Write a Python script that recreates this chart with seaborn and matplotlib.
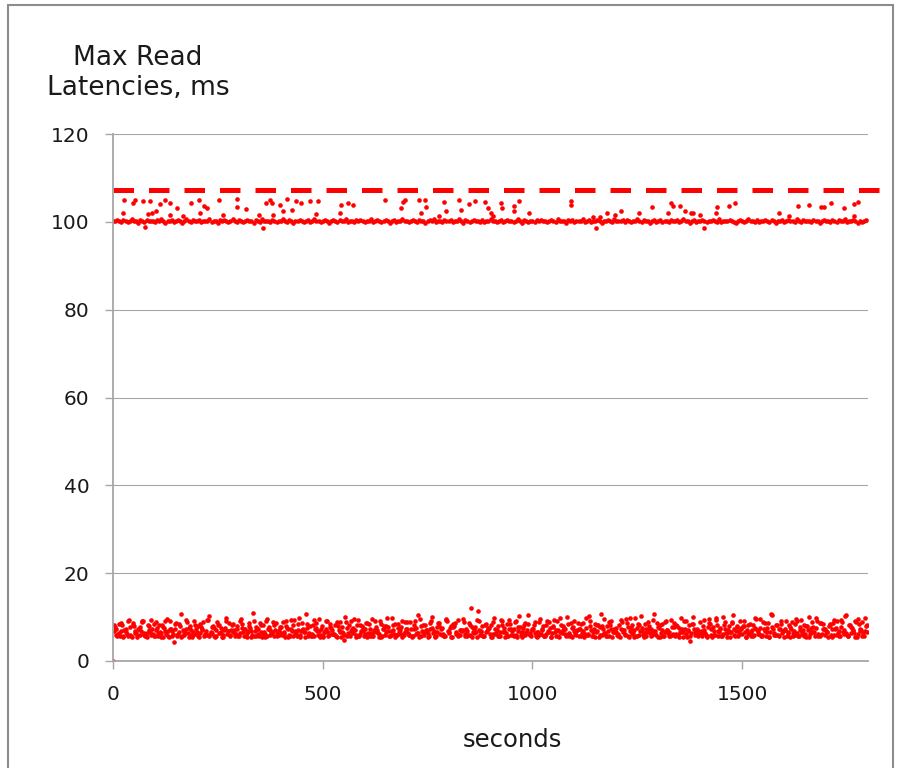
import numpy as np
import matplotlib
matplotlib.use("Agg")
import matplotlib.pyplot as plt
import seaborn as sns
from matplotlib.patches import Rectangle

# samples every 5 s (three interleaved samples for the low band)
step = 5

low_a = [
    0.0, 7.8, 5.6, 8.4, 6.9, 5.8, 7.2, 9.1, 6.0, 5.5, 8.0, 6.6, 7.4, 5.9, 8.8, 6.3, 5.4, 7.0, 9.3, 6.1,
    5.7, 7.6, 8.2, 6.4, 5.5, 9.0, 6.8, 7.3, 5.6, 4.4, 8.6, 6.2, 7.9, 5.8, 6.5, 9.4, 5.5, 7.1, 6.0, 8.3,
    6.7, 5.4, 7.7, 8.9, 6.1, 5.9, 10.2, 6.4, 7.5, 5.6, 8.1, 6.3, 5.5, 7.0, 9.2, 6.8, 5.7, 8.5, 6.2, 7.4,
    5.8, 9.6, 6.5, 7.2, 5.4, 8.0, 6.9, 5.6, 7.8, 6.1, 8.7, 5.5, 6.6, 9.1, 7.3, 5.9, 6.4, 8.2, 5.6, 7.0,
    6.3, 8.8, 5.5, 7.6, 6.0, 9.3, 5.7, 6.8, 8.4, 5.4, 7.1, 6.5, 10.6, 5.8, 7.9, 6.2, 5.6, 8.6, 6.9, 7.4,
    5.5, 6.7, 9.0, 5.9, 7.5, 6.1, 8.3, 5.4, 6.6, 7.8, 4.8, 8.9, 6.3, 5.7, 7.2, 9.5, 6.0, 5.6, 8.1, 6.8,
    7.3, 5.5, 8.5, 6.4, 5.8, 9.2, 7.0, 6.2, 5.4, 8.0, 6.7, 7.7, 5.6, 9.7, 6.1, 5.9, 8.4, 7.1, 5.5, 6.5,
    8.8, 6.0, 7.4, 5.7, 9.0, 6.3, 5.5, 7.9, 8.2, 6.6, 5.4, 7.2, 10.1, 6.9, 5.8, 8.6, 6.2, 7.5, 5.6, 9.3,
    6.4, 5.5, 7.8, 8.7, 6.1, 5.9, 7.0, 9.6, 5.6, 6.8, 8.3, 5.4, 7.3, 6.5, 11.3, 6.0, 8.0, 5.7, 6.7, 7.6,
    5.5, 8.9, 6.2, 7.1, 5.8, 9.4, 6.6, 5.4, 8.5, 7.4, 6.0, 5.6, 9.1, 6.9, 7.7, 5.5, 8.2, 6.3, 10.4, 5.9,
    7.2, 6.4, 5.5, 8.8, 6.1, 7.9, 5.7, 9.2, 6.7, 5.4, 8.0, 7.0, 5.8, 9.8, 6.3, 7.5, 5.6, 8.4, 6.0, 5.5,
    9.0, 6.8, 7.3, 5.6, 8.6, 6.2, 5.9, 10.3, 7.1, 6.5, 5.4, 8.1, 7.7, 6.0, 9.5, 5.7, 6.9, 8.3, 5.5, 7.4,
    6.6, 5.8, 9.3, 7.0, 6.1, 8.7, 5.5, 7.6, 6.4, 9.9, 5.6, 8.2, 6.8, 5.4, 7.2, 8.9, 6.3, 5.9, 10.7, 6.0,
    7.8, 5.5, 8.5, 6.7, 7.1, 5.7, 9.4, 6.2, 5.6, 8.0, 7.5, 6.5, 5.4, 9.1, 6.9, 4.6, 8.4, 7.3, 6.1, 5.8,
    8.8, 6.4, 7.0, 5.5, 9.6, 6.0, 7.7, 5.9, 8.2, 6.6, 5.6, 10.0, 7.2, 6.3, 5.4, 8.6, 7.4, 6.8, 5.7, 9.2,
    6.1, 7.9, 5.5, 8.3, 6.5, 5.8, 9.7, 7.1, 6.2, 5.6, 8.9, 6.9, 7.6, 5.4, 10.5, 6.0, 8.1, 5.9, 7.3, 6.4,
    5.5, 9.0, 6.7, 7.8, 5.7, 8.5, 6.3, 5.6, 9.3, 7.0, 6.1, 8.0, 5.4, 7.5, 6.6, 9.8, 5.8, 8.7, 6.2, 7.2,
    6.8, 5.5, 8.4, 7.4, 6.0, 9.1, 5.6, 7.7, 6.5, 10.2, 5.9, 8.2, 6.3, 7.1, 5.4, 9.5, 6.9, 8.8, 5.7, 7.9,
]

low_b = [
    8.2, 5.9, 6.4, 8.7, 5.5, 7.0, 6.2, 9.4, 5.7, 8.1, 6.8, 5.4, 7.7, 9.0, 6.0, 5.6, 8.3, 6.6, 7.3, 5.8,
    8.9, 6.3, 5.5, 7.8, 6.9, 9.6, 5.4, 7.2, 6.1, 8.5, 5.7, 6.7, 10.8, 5.9, 7.4, 6.4, 8.0, 5.5, 9.1, 6.2,
    5.6, 8.4, 7.1, 6.0, 9.3, 5.8, 6.5, 7.9, 5.4, 8.8, 6.3, 7.5, 5.5, 9.7, 6.8, 5.9, 8.2, 7.0, 6.1, 5.6,
    9.0, 7.6, 5.7, 6.4, 8.6, 5.5, 10.9, 6.9, 7.3, 5.8, 8.1, 6.2, 5.4, 9.5, 7.0, 6.6, 5.6, 8.7, 6.0, 7.8,
    5.9, 6.5, 9.2, 5.5, 7.4, 8.3, 6.1, 5.7, 9.9, 6.8, 7.2, 5.4, 8.5, 6.3, 5.8, 9.4, 7.6, 6.0, 5.5, 8.0,
    6.7, 9.1, 5.6, 7.7, 6.2, 5.9, 8.8, 7.1, 5.4, 6.4, 10.0, 5.7, 8.2, 6.9, 7.5, 5.5, 9.3, 6.1, 7.9, 5.8,
    8.6, 6.3, 5.6, 9.5, 7.0, 6.5, 5.4, 8.4, 7.3, 6.0, 9.8, 5.7, 6.8, 8.1, 5.5, 7.6, 6.2, 9.0, 5.9, 7.2,
    6.4, 8.9, 5.5, 7.4, 6.1, 10.4, 5.8, 6.7, 8.3, 7.0, 5.6, 9.2, 6.3, 5.4, 7.8, 8.6, 6.0, 5.7, 9.6, 6.9,
    7.5, 5.5, 8.0, 6.6, 9.4, 5.9, 7.1, 6.2, 5.6, 8.7, 12.0, 6.5, 7.7, 5.4, 9.0, 6.8, 5.8, 8.4, 7.3, 6.1,
    5.5, 9.7, 6.4, 7.9, 5.7, 8.2, 6.9, 5.6, 9.3, 7.2, 6.0, 8.8, 5.4, 10.3, 6.6, 7.5, 5.9, 8.5, 6.3, 7.0,
    8.1, 5.6, 6.7, 9.5, 7.4, 5.8, 6.2, 8.9, 5.5, 7.7, 6.5, 9.1, 5.4, 8.3, 7.0, 6.1, 10.1, 5.7, 7.6, 6.8,
    5.9, 8.6, 7.2, 6.4, 5.5, 9.8, 6.0, 7.9, 5.6, 8.4, 6.9, 5.4, 10.6, 7.3, 6.3, 8.0, 5.8, 9.2, 6.6, 7.5,
    6.2, 5.5, 8.8, 7.1, 9.6, 5.7, 6.8, 8.2, 5.4, 7.6, 6.0, 10.2, 5.9, 8.5, 6.5, 7.3, 5.6, 9.4, 6.9, 5.5,
    8.3, 7.0, 5.8, 9.1, 6.4, 5.6, 7.8, 8.7, 6.1, 5.4, 9.9, 6.7, 7.4, 5.5, 8.1, 6.3, 10.0, 5.9, 7.1, 6.6,
    5.7, 9.3, 6.0, 7.7, 8.5, 5.5, 6.8, 9.7, 5.6, 7.2, 6.2, 8.9, 5.4, 7.9, 6.5, 10.4, 5.8, 8.0, 6.9, 7.5,
    9.0, 5.5, 6.4, 8.4, 7.0, 5.9, 9.5, 6.1, 7.6, 5.6, 8.7, 6.6, 5.4, 10.7, 7.3, 6.0, 8.2, 5.7, 9.2, 6.8,
    7.4, 6.3, 5.5, 8.8, 6.9, 9.6, 5.8, 7.1, 6.2, 8.3, 5.4, 10.1, 6.5, 7.8, 5.6, 9.0, 6.0, 8.6, 7.2, 5.9,
    6.7, 8.1, 5.5, 9.4, 7.5, 6.4, 5.7, 8.9, 6.1, 10.5, 5.6, 7.7, 6.8, 9.1, 5.4, 8.4, 7.0, 6.3, 9.8, 6.6,
]

low_c = [
    6.9, 7.4, 6.1, 5.8, 8.2, 7.0, 6.5, 5.6, 7.7, 8.6, 6.3, 5.9, 7.2, 6.8, 9.0, 5.7, 6.4, 7.9, 6.0, 8.4,
    7.1, 5.6, 6.6, 8.1, 7.5, 6.2, 5.8, 9.2, 6.9, 7.3, 6.0, 8.5, 5.5, 7.0, 6.4, 8.8, 7.6, 5.9, 6.7, 7.2,
    8.0, 6.3, 7.4, 5.7, 6.8, 9.4, 6.1, 7.8, 5.6, 7.1, 8.3, 6.5, 5.9, 7.5, 6.2, 8.7, 7.0, 6.6, 5.8, 7.9,
    6.4, 8.5, 7.2, 5.6, 6.9, 7.6, 6.0, 9.1, 5.7, 7.3, 6.7, 8.2, 6.1, 5.8, 7.8, 6.5, 8.9, 7.1, 6.3, 5.9,
    7.7, 6.2, 8.0, 7.4, 5.6, 6.8, 9.3, 6.4, 7.0, 5.9, 8.6, 6.6, 7.5, 6.1, 5.7, 8.1, 7.2, 6.9, 9.6, 6.0,
    5.8, 7.3, 6.5, 8.4, 7.0, 6.2, 5.6, 7.9, 8.8, 6.7, 6.0, 7.6, 5.9, 9.0, 6.4, 7.1, 8.3, 5.7, 6.8, 7.5,
    6.1, 8.7, 7.2, 5.8, 6.6, 7.8, 6.3, 9.2, 5.6, 7.4, 8.0, 6.9, 6.0, 7.0, 8.5, 5.9, 6.5, 7.7, 6.2, 8.9,
    7.3, 6.0, 5.7, 8.2, 7.6, 6.4, 9.5, 6.8, 5.9, 7.1, 6.3, 8.6, 7.5, 5.6, 6.7, 8.0, 7.2, 6.1, 5.8, 9.1,
    6.6, 7.9, 8.4, 6.2, 5.7, 7.0, 6.9, 8.8, 7.4, 6.0, 5.9, 7.7, 6.4, 9.3, 7.1, 6.5, 5.6, 8.1, 6.8, 7.6,
    8.3, 6.1, 7.2, 5.8, 6.7, 9.0, 7.5, 6.3, 5.7, 8.5, 6.9, 7.3, 6.0, 7.8, 5.9, 6.6, 8.7, 7.0, 6.2, 5.6,
    7.4, 8.9, 6.5, 6.0, 7.1, 5.8, 8.2, 6.8, 7.6, 6.3, 9.4, 5.7, 7.0, 6.6, 8.0, 7.3, 5.9, 6.4, 8.6, 7.7,
    6.2, 7.0, 5.6, 8.4, 6.9, 7.5, 6.1, 9.2, 5.8, 7.2, 6.7, 8.1, 6.0, 7.9, 6.4, 5.7, 8.8, 7.4, 6.5, 7.1,
    5.9, 8.3, 7.3, 6.6, 6.0, 7.7, 9.7, 6.2, 7.0, 5.8, 8.5, 6.8, 7.5, 6.3, 5.6, 8.0, 7.2, 6.9, 6.1, 8.7,
    7.6, 6.4, 5.7, 8.9, 7.1, 6.7, 6.0, 7.8, 8.2, 5.9, 6.5, 7.4, 9.0, 6.1, 7.0, 5.8, 8.4, 6.6, 7.3, 6.2,
    6.8, 7.9, 6.3, 5.6, 8.6, 7.2, 6.0, 9.3, 6.9, 7.5, 5.7, 8.1, 6.4, 7.0, 6.7, 8.8, 5.9, 7.7, 6.2, 7.4,
    8.0, 6.5, 7.1, 6.1, 5.8, 8.3, 7.6, 6.8, 9.5, 6.0, 7.3, 5.7, 8.7, 6.6, 7.8, 6.3, 5.9, 7.2, 8.5, 6.9,
    7.0, 5.6, 8.2, 7.4, 6.4, 6.0, 9.1, 7.7, 6.7, 5.8, 8.0, 7.1, 6.2, 8.9, 6.5, 7.5, 6.1, 5.7, 8.4, 7.3,
    6.6, 7.9, 6.0, 8.6, 7.2, 5.9, 6.8, 9.4, 7.0, 6.3, 5.7, 8.1, 7.6, 6.4, 8.8, 6.1, 7.4, 5.8, 6.9, 8.3,
]

high_base = [
    100.3, 100.1, 100.4, 100.2, 99.9, 100.5, 100.2, 100.0, 100.3, 100.6, 100.1, 100.2, 99.8, 100.4, 100.2, 100.0, 100.5, 100.3, 100.1, 100.2,
    100.0, 100.4, 100.2, 100.6, 100.1, 99.8, 100.3, 100.2, 100.5, 100.0, 100.2, 100.4, 100.1, 99.7, 100.3, 100.6, 100.2, 100.0, 100.4, 100.1,
    100.2, 100.5, 99.9, 100.3, 100.1, 100.2, 100.7, 100.0, 100.3, 100.2, 99.8, 100.4, 100.1, 100.5, 100.2, 100.0, 100.3, 100.6, 100.1, 99.9,
    100.4, 100.2, 100.0, 100.3, 100.5, 100.1, 100.2, 99.8, 100.4, 100.2, 100.0, 100.6, 100.3, 100.1, 100.2, 99.9, 100.5, 100.2, 100.0, 100.3,
    100.1, 100.6, 100.2, 100.0, 100.4, 100.2, 99.7, 100.3, 100.1, 100.5, 100.2, 100.0, 100.3, 100.4, 99.9, 100.2, 100.6, 100.1, 100.3, 100.0,
    100.2, 100.4, 100.1, 99.8, 100.3, 100.5, 100.2, 100.0, 100.4, 100.1, 100.2, 100.7, 100.0, 100.3, 100.2, 99.9, 100.4, 100.1, 100.5, 100.2,
    100.0, 100.3, 100.2, 100.6, 99.9, 100.1, 100.4, 100.2, 100.0, 100.3, 100.5, 100.1, 99.8, 100.2, 100.4, 100.0, 100.3, 100.2, 100.6, 100.1,
    100.3, 99.9, 100.2, 100.4, 100.1, 100.0, 100.5, 100.2, 100.3, 99.7, 100.2, 100.4, 100.1, 100.6, 100.0, 100.3, 100.2, 99.9, 100.4, 100.2,
    100.1, 100.5, 100.0, 100.2, 100.3, 100.6, 100.1, 99.8, 100.4, 100.2, 100.0, 100.3, 100.5, 100.1, 100.2, 100.0, 100.4, 99.9, 100.3, 100.2,
    100.6, 100.1, 100.3, 100.0, 100.2, 100.4, 99.9, 100.2, 100.5, 100.1, 100.3, 100.0, 100.2, 100.6, 100.1, 99.8, 100.4, 100.2, 100.0, 100.3,
    100.2, 100.0, 100.4, 100.1, 100.5, 100.2, 100.3, 99.9, 100.1, 100.4, 100.2, 100.0, 100.6, 100.3, 100.1, 100.2, 99.7, 100.4, 100.2, 100.5,
    100.0, 100.3, 100.1, 100.2, 100.6, 99.9, 100.2, 100.4, 100.0, 100.3, 100.1, 100.5, 100.2, 99.8, 100.3, 100.1, 100.4, 100.2, 100.0, 100.6,
    100.3, 100.1, 100.2, 100.5, 100.0, 100.4, 100.2, 99.9, 100.3, 100.1, 100.6, 100.2, 100.0, 100.4, 100.1, 100.3, 99.8, 100.2, 100.5, 100.0,
    100.2, 100.4, 100.0, 100.3, 100.1, 99.9, 100.5, 100.2, 100.1, 100.4, 100.0, 100.2, 100.6, 100.1, 100.3, 99.8, 100.2, 100.4, 100.0, 100.3,
    100.1, 100.5, 100.2, 100.0, 100.3, 100.1, 100.4, 100.2, 99.9, 100.6, 100.0, 100.3, 100.2, 100.1, 100.5, 100.2, 100.0, 99.7, 100.3, 100.4,
    100.2, 100.0, 100.3, 100.6, 100.1, 100.2, 99.9, 100.4, 100.0, 100.3, 100.2, 100.5, 100.1, 100.0, 100.4, 100.2, 99.8, 100.3, 100.1, 100.5,
    100.0, 100.2, 100.4, 100.1, 100.3, 100.0, 100.6, 100.2, 99.9, 100.4, 100.1, 100.3, 100.2, 100.0, 100.5, 100.1, 100.3, 99.8, 100.2, 100.4,
    100.1, 100.3, 100.0, 100.5, 100.2, 99.9, 100.4, 100.1, 100.2, 100.6, 100.0, 100.3, 100.1, 100.4, 100.2, 99.8, 100.3, 100.0, 100.2, 100.4,
]

# spikes above / below the ~100 ms band
spike_t = [26, 25, 48, 52, 71, 76, 88, 84, 92, 102, 112, 125, 137, 137, 152, 166, 187, 205, 207, 217,
           223, 253, 263, 296, 296, 317, 348, 358, 364, 374, 378, 382, 398, 405, 416, 427, 437, 448, 469, 485,
           489, 542, 544, 560, 572, 648, 687, 691, 695, 729, 735, 745, 747, 777, 790, 794, 826, 830, 848, 864,
           886, 894, 902, 905, 924, 928, 957, 957, 967, 991, 1092, 1092, 1144, 1152, 1160, 1177, 1197, 1211, 1255, 1286,
           1322, 1330, 1334, 1352, 1364, 1378, 1383, 1399, 1410, 1437, 1440, 1469, 1483, 1587, 1612, 1632, 1660, 1687, 1695, 1711,
           1743, 1767, 1767, 1775]
spike_ms = [105.0, 102.0, 104.3, 104.9, 104.8, 98.9, 104.8, 101.7, 102.0, 102.4, 104.0, 105.0, 104.4, 101.6, 103.1, 101.4, 104.4, 104.9, 102.0, 103.6,
            103.1, 105.0, 101.6, 105.2, 103.3, 102.9, 101.6, 98.5, 104.3, 105.0, 104.4, 101.6, 103.9, 102.4, 105.3, 102.7, 104.8, 104.3, 104.8, 101.7,
            104.8, 102.1, 103.9, 104.3, 103.9, 104.9, 103.1, 104.6, 105.0, 105.0, 102.0, 105.0, 103.3, 101.4, 104.6, 102.5, 105.0, 102.7, 104.0, 104.8,
            104.6, 103.1, 102.1, 101.4, 104.3, 103.1, 103.6, 102.4, 104.8, 102.1, 104.8, 103.9, 101.0, 98.5, 101.2, 102.0, 101.6, 102.5, 102.0, 103.3,
            102.1, 104.4, 103.6, 103.6, 102.5, 102.0, 102.0, 101.6, 98.5, 102.0, 103.3, 103.6, 104.4, 102.0, 101.4, 103.6, 103.9, 103.3, 103.3, 104.3,
            103.1, 101.4, 104.0, 104.6]

limit_ms = 107.3
limit_t = [0, 1848]

red = "#ff0000"
grey = "#a6a6a6"

sns.set_style("white")
plt.rcParams["font.family"] = ["DejaVu Sans"]

fig = plt.figure(figsize=(9, 7.68), dpi=100)
ax = fig.add_axes([113 / 900, 1 - 661 / 768, 755 / 900, 527 / 768])

pts = dict(color=red, s=11, marker="o", linewidth=0, ax=ax, legend=False)
sns.scatterplot(x=np.arange(len(high_base)) * step, y=high_base, **pts)
sns.scatterplot(x=spike_t, y=spike_ms, **pts)
sns.scatterplot(x=np.arange(len(low_a)) * step, y=low_a, **pts)
sns.scatterplot(x=np.arange(len(low_c)) * step + 1.7, y=low_c, **pts)
sns.scatterplot(x=np.arange(len(low_b)) * step + 3.3, y=low_b, **pts)

ax.plot(limit_t, [limit_ms, limit_ms], color=red, lw=3.6, dashes=(4.1, 3.0),
        solid_capstyle="butt", dash_capstyle="butt", clip_on=False)

ax.set_xlim(0, 1800)
ax.set_ylim(0, 120)
ax.set_xticks([0, 500, 1000, 1500])
ax.set_yticks(range(0, 121, 20))
ax.yaxis.grid(True, color=grey, lw=0.8)
ax.set_axisbelow(True)
for side in ["top", "right"]:
    ax.spines[side].set_visible(False)
for side in ["left", "bottom"]:
    ax.spines[side].set_color(grey)
    ax.spines[side].set_linewidth(1.3)
ax.tick_params(axis="both", direction="out", length=6, width=1, color=grey,
               labelsize=14.5, labelcolor="#1a1a1a", pad=11)
ax.tick_params(axis="x", bottom=True)
ax.tick_params(axis="y", left=True)
ax.set_xlabel("")
ax.set_ylabel("")

fig.text(512 / 900, 1 - 740 / 768, "seconds", ha="center", va="center",
         fontsize=17.5, color="#1a1a1a")
fig.text(138 / 900, 1 - 45 / 768, "Max Read\nLatencies, ms", ha="center", va="top",
         fontsize=19, color="#1a1a1a", linespacing=1.2)

fig.patches.append(Rectangle((8 / 900, -0.05), 885 / 900, 1.05 - 5 / 768,
                             transform=fig.transFigure, fill=False,
                             edgecolor="#8c8c8c", lw=1.5))

fig.savefig("out.png", dpi=100, facecolor="white")
